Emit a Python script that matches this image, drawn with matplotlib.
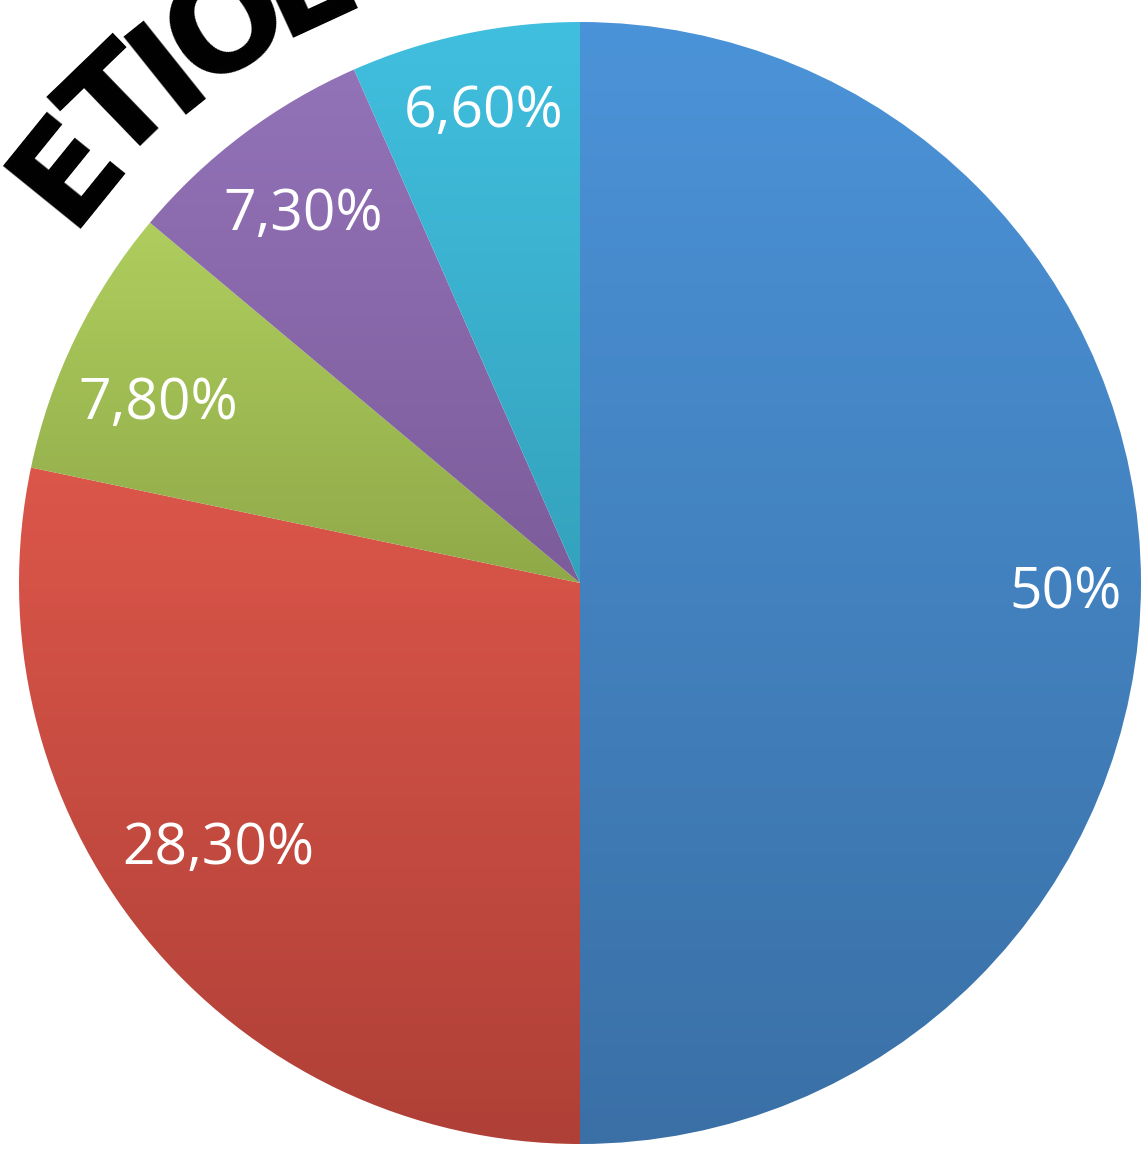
import numpy as np
import matplotlib
matplotlib.use("Agg")
import matplotlib.pyplot as plt
from matplotlib.colors import LinearSegmentedColormap
from matplotlib.font_manager import FontProperties
from matplotlib.textpath import text_to_path

# slice values (clockwise from 12 o'clock)
values = [50, 28.3, 7.8, 7.3, 6.6]
labels = ["50%", "28,30%", "7,80%", "7,30%", "6,60%"]
top_colors = ["#4B93D8", "#DC564A", "#AFCE5E", "#9373B8", "#41BFDF"]
bottom_colors = ["#3A70A6", "#AF4037", "#8FA948", "#7C5C9A", "#34A2BD"]
label_dist = [0.865, 0.794, 0.822, 0.83, 0.869]
label_shift = [-0.5, -3.4, 2.2, -0.5, -0.5]   # degrees off the slice middle
title = "ETIOLOGÍA"

W, H, dpi = 1146, 1152, 100
cx, cy, R = 580, 583, 561  # pie centre / radius in pixels

fig = plt.figure(figsize=(W / dpi, H / dpi), dpi=dpi)
ax = fig.add_axes([0, 0, 1, 1])

wedges, _ = ax.pie(values, startangle=90, counterclock=False,
                   wedgeprops=dict(linewidth=0))

# vertical gradient inside each slice
grad = np.linspace(0, 1, 256).reshape(-1, 1)
for w, c0, c1 in zip(wedges, top_colors, bottom_colors):
    w.set_facecolor("none")
    ext = w.get_path().get_extents()
    cmap = LinearSegmentedColormap.from_list("g", [c1, c0])
    im = ax.imshow(grad, cmap=cmap, extent=[ext.x0, ext.x1, ext.y0, ext.y1],
                   origin="lower", aspect="auto", interpolation="bilinear")
    im.set_clip_path(w)

# percentage labels
for w, lab, d, sh in zip(wedges, labels, label_dist, label_shift):
    mid = np.deg2rad((w.theta1 + w.theta2) / 2 + sh)
    ax.text(d * np.cos(mid), d * np.sin(mid), lab, color="white",
            fontsize=41, family="Open Sans", ha="center", va="center_baseline")

ax.set_xlim(-cx / R, (W - cx) / R)
ax.set_ylim(-(H - cy) / R, cy / R)
ax.set_aspect("auto")
ax.axis("off")

# title written along an arc above the pie
fsize = 99
fp = FontProperties(family="DejaVu Sans", weight="bold", size=fsize)
px_per_pt = dpi / 72.0
r_base = 620 / R
r_mid = (620 + 0.36 * fsize * px_per_pt) / R
track = 0.87
start = 141.0
first_w = text_to_path.get_text_width_height_descent(title[0], fp, ismath=False)[0]
for i, ch in enumerate(title):
    w_prev = text_to_path.get_text_width_height_descent(title[:i], fp, ismath=False)[0] if i else 0
    w_cur = text_to_path.get_text_width_height_descent(title[:i + 1], fp, ismath=False)[0]
    s = track * ((w_prev + w_cur) / 2 - first_w / 2) * px_per_pt / R
    ang = start - np.rad2deg(s / r_mid)
    a = np.deg2rad(ang)
    ax.text(r_base * np.cos(a), r_base * np.sin(a), ch, fontproperties=fp,
            rotation=ang - 90, rotation_mode="anchor", ha="center",
            va="baseline", color="black", clip_on=True)

fig.savefig("out.png", dpi=dpi)
